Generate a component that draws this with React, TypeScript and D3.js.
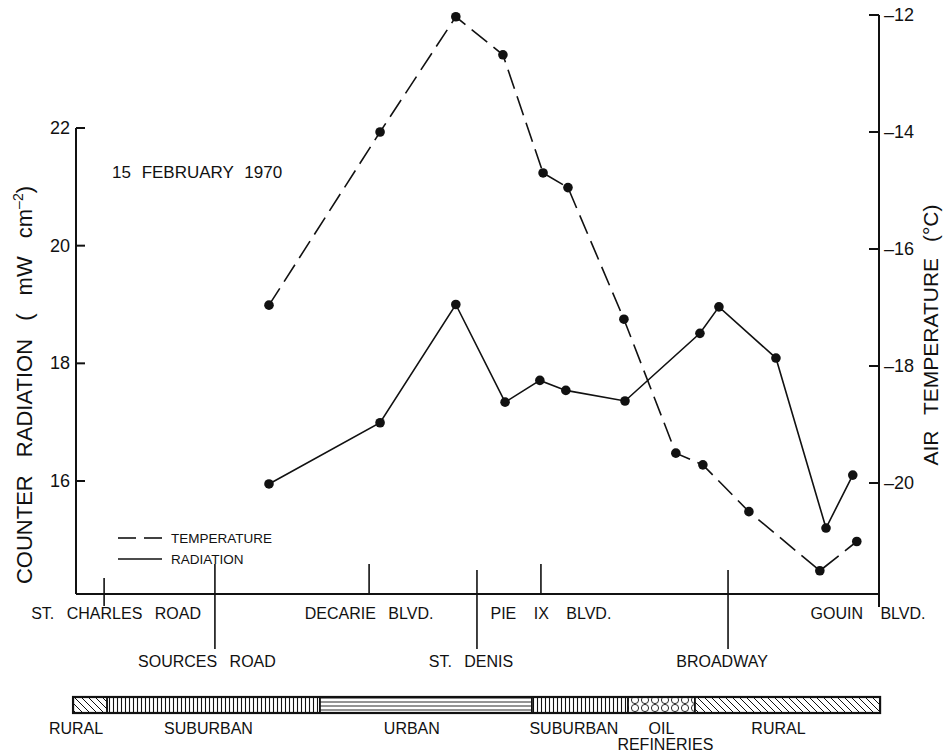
import React from 'react';
import * as d3 from 'd3';

// distance along the traverse (km), temperature (°C) and counter radiation (mW cm-2)
const tempKm = [7.21, 11.36, 14.19, 15.95, 17.45, 18.38, 20.47, 22.41, 23.42, 25.14, 27.79, 29.17];
const tempC = [-16.96, -14.0, -12.03, -12.68, -14.7, -14.95, -17.2, -19.49, -19.69, -20.49, -21.5, -21.0];
const radKm = [7.21, 11.36, 14.19, 16.03, 17.33, 18.3, 20.51, 23.31, 24.02, 26.15, 28.02, 29.02];
const radVal = [15.95, 16.99, 19.0, 17.34, 17.71, 17.54, 17.36, 18.51, 18.96, 18.09, 15.2, 16.1];

const streetNames = ['ST. CHARLES ROAD', 'SOURCES ROAD', 'DECARIE BLVD.', 'ST. DENIS', 'PIE IX BLVD.', 'BROADWAY', 'GOUIN BLVD.'];
const streetKm = [1.05, 5.19, 10.95, 14.98, 17.37, 24.36, 30];
const streetRow = [1, 2, 1, 2, 1, 2, 1];

const zoneNames = ['RURAL', 'SUBURBAN', 'URBAN', 'SUBURBAN', 'OIL', 'RURAL'];
const zoneEdges = [-0.11, 1.16, 9.11, 17.03, 20.62, 23.12, 30.04];
const zoneKind = ['diag', 'vert', 'horiz', 'vert', 'circle', 'diag'];

const radTicks = [16, 18, 20, 22];
const tempTicks = [-20, -18, -16, -14, -12];

const W = 952;
const H = 753;
const axisY = 594;
const font = '"Liberation Sans", Arial, sans-serif';

// small label nudges so the hand lettering sits where it does on the original
const streetNudge: Record<string, number> = {
  'ST. CHARLES ROAD': 12, 'SOURCES ROAD': -8, 'ST. DENIS': -6, 'PIE IX BLVD.': 10, 'BROADWAY': -6, 'GOUIN BLVD.': -11,
};
const zoneNudge = [-14, -5, -14, -6, 0, -9];

export default function App() {
  const x = d3.scaleLinear().domain([0, 30]).range([76, 879]);
  const yRad = d3.scaleLinear().domain([16, 22]).range([481, 128]);
  const yTemp = d3.scaleLinear().domain([-20, -12]).range([483, 15]);

  const tempLine = d3.line<number>().x((d, i) => x(tempKm[i])).y(d => yTemp(d));
  const radLine = d3.line<number>().x((d, i) => x(radKm[i])).y(d => yRad(d));

  const barTop = 697;
  const barH = 16;

  return (
    <svg width={W} height={H} style={{ position: 'absolute', left: 0, top: 0, background: '#fff' }}
      fontFamily={font} fill="#111">
      <defs>
        <pattern id="diag" width="7" height="7" patternUnits="userSpaceOnUse">
          <path d="M-1,-1 L8,8 M-4,3 L4,11 M3,-4 L11,4" stroke="#111" strokeWidth="1" />
        </pattern>
        <pattern id="vert" width="4" height="16" patternUnits="userSpaceOnUse">
          <line x1="1.5" y1="0" x2="1.5" y2="16" stroke="#111" strokeWidth="1.1" />
        </pattern>
        <pattern id="horiz" width="10" height="4" patternUnits="userSpaceOnUse">
          <line x1="0" y1="2" x2="10" y2="2" stroke="#111" strokeWidth="0.9" />
        </pattern>
        <pattern id="circle" width="10" height="8" patternUnits="userSpaceOnUse">
          <circle cx="5" cy="4" r="3.6" fill="none" stroke="#111" strokeWidth="0.9" />
        </pattern>
      </defs>

      {/* axes */}
      <g stroke="#111" strokeWidth="2" fill="none">
        <line x1={x(0)} y1={yRad(22)} x2={x(0)} y2={axisY} />
        <line x1={x(0)} y1={axisY} x2={x(30)} y2={axisY} />
        <line x1={x(30)} y1={yTemp(-12)} x2={x(30)} y2={axisY + 13} />
      </g>
      {radTicks.map(t => (
        <g key={t}>
          <line x1={x(0)} x2={x(0) + 9} y1={yRad(t)} y2={yRad(t)} stroke="#111" strokeWidth="2" />
          <text x={x(0) - 6} y={yRad(t) + 6} fontSize="18" textAnchor="end">{t}</text>
        </g>
      ))}
      {tempTicks.map(t => (
        <g key={t}>
          <line x1={x(30) - 10} x2={x(30)} y1={yTemp(t)} y2={yTemp(t)} stroke="#111" strokeWidth="2" />
          <text x={x(30) + 5} y={yTemp(t) + 6} fontSize="18">{'\u2013' + Math.abs(t)}</text>
        </g>
      ))}

      <text transform={`translate(32,385) rotate(-90)`} fontSize="22" textAnchor="middle" wordSpacing="12">
        COUNTER RADIATION ( mW cm<tspan dy="-9" fontSize="14">{'\u2013'}2</tspan><tspan dy="9">)</tspan>
      </text>
      <text transform={`translate(938,335) rotate(-90)`} fontSize="21" textAnchor="middle" wordSpacing="10">
        AIR TEMPERATURE (°C)
      </text>

      <text x={112} y={178} fontSize="17" wordSpacing="6">15 FEBRUARY 1970</text>

      {/* series */}
      <path d={tempLine(tempC) || ''} fill="none" stroke="#111" strokeWidth="1.6" strokeDasharray="20 8" />
      <path d={radLine(radVal) || ''} fill="none" stroke="#111" strokeWidth="1.6" />
      {tempC.map((d, i) => <circle key={'t' + i} cx={x(tempKm[i])} cy={yTemp(d)} r="4.8" />)}
      {radVal.map((d, i) => <circle key={'r' + i} cx={x(radKm[i])} cy={yRad(d)} r="4.8" />)}

      {/* legend */}
      <g stroke="#111" strokeWidth="1.6">
        <line x1={118} x2={136} y1={538} y2={538} />
        <line x1={144} x2={162} y1={538} y2={538} />
        <line x1={118} x2={162} y1={559} y2={559} />
      </g>
      <text x={171} y={543} fontSize="13.5">TEMPERATURE</text>
      <text x={171} y={564} fontSize="13.5">RADIATION</text>

      {/* streets */}
      {streetNames.map((s, i) => {
        const sx = x(streetKm[i]);
        const two = streetRow[i] === 2;
        const top = i === 0 ? 16 : (i === 3 || i === 5) ? 24 : 30;
        const bottom = two ? 55 : (i === 0 ? 12 : 0);
        return (
          <g key={s}>
            {i < 6 && (
              <line x1={sx} x2={sx} y1={axisY - top} y2={axisY + bottom} stroke="#111" strokeWidth="1.6" />
            )}
            <text x={sx + (streetNudge[s] || 0)} y={two ? 667 : 619} fontSize="16" textAnchor="middle"
              wordSpacing={i === 4 || i === 6 ? 13 : 8}>{s}</text>
          </g>
        );
      })}

      {/* land use bar */}
      {zoneNames.map((z, i) => {
        const x0 = x(zoneEdges[i]);
        const x1 = x(zoneEdges[i + 1]);
        const cx = (x0 + x1) / 2 + zoneNudge[i];
        return (
          <g key={i}>
            <rect x={x0} y={barTop} width={x1 - x0} height={barH} fill={`url(#${zoneKind[i]})`} stroke="#111" strokeWidth="1.5" />
            <text x={cx} y={734} fontSize="16" textAnchor="middle">{z}</text>
            {z === 'OIL' && <text x={cx + 4} y={750} fontSize="16" textAnchor="middle">REFINERIES</text>}
          </g>
        );
      })}
      <rect x={x(zoneEdges[0])} y={barTop} width={x(zoneEdges[6]) - x(zoneEdges[0])} height={barH}
        fill="none" stroke="#111" strokeWidth="2.2" />
    </svg>
  );
}
